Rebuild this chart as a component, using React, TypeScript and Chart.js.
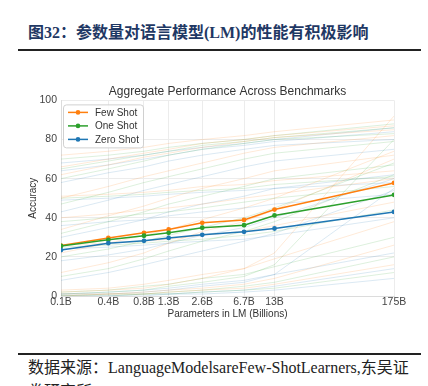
import React, { useEffect, useRef } from "react";
import { Chart, registerables } from "chart.js";
Chart.register(...registerables);

const paramValues = [0.125, 0.35, 0.76, 1.3, 2.7, 6.7, 13, 175];
const tickLabels = ["0.1B", "0.4B", "0.8B", "1.3B", "2.6B", "6.7B", "13B", "175B"];
const yTicks = [0, 20, 40, 60, 80, 100];

const fewShot = [25.8, 29.7, 32.3, 34.0, 37.4, 38.9, 44.2, 57.8];
const oneShot = [25.6, 28.7, 30.8, 32.3, 34.9, 36.2, 41.2, 51.7];
const zeroShot = [23.5, 27.0, 28.2, 29.7, 31.3, 32.8, 34.5, 43.0];

const bgFew = [
  [66, 70, 73, 75, 78, 80, 82, 87],
  [62, 67, 71, 73, 76, 79, 81, 85],
  [50, 56, 61, 64, 68, 73, 76, 82],
  [34, 41, 46, 50, 55, 60, 64, 72],
  [51, 52, 53, 54, 56, 57, 59, 64],
  [40, 42, 44, 45, 47, 50, 52, 60],
  [3, 4, 6, 8, 11, 14, 19, 38],
  [1, 1, 2, 3, 4, 6, 9, 26],
  [2, 3, 4, 6, 9, 14, 22, 92],
  [22, 27, 31, 34, 39, 45, 50, 74],
  [12, 17, 22, 27, 33, 38, 44, 70],
  [0, 1, 1, 2, 3, 4, 6, 16],
  [26, 27, 28, 29, 31, 33, 36, 48],
  [72, 74, 76, 78, 80, 82, 84, 90],
];
const bgOne = [
  [65, 69, 72, 74, 77, 79, 81, 86],
  [60, 65, 69, 72, 75, 78, 80, 83],
  [47, 53, 58, 61, 65, 70, 73, 79],
  [32, 38, 43, 47, 51, 56, 60, 67],
  [50, 51, 52, 53, 54, 55, 57, 61],
  [38, 40, 42, 43, 45, 48, 50, 56],
  [2, 3, 5, 6, 9, 11, 15, 30],
  [0, 1, 1, 2, 3, 5, 7, 20],
  [1, 2, 3, 5, 7, 10, 16, 80],
  [20, 24, 28, 31, 35, 40, 45, 68],
  [10, 14, 19, 23, 28, 33, 38, 62],
  [0, 0, 1, 1, 2, 3, 4, 12],
  [25, 26, 27, 28, 29, 31, 33, 44],
  [70, 72, 74, 76, 78, 80, 82, 88],
];
const bgZero = [
  [64, 67, 70, 72, 75, 77, 79, 84],
  [58, 63, 66, 69, 72, 75, 77, 80],
  [43, 49, 54, 57, 61, 66, 69, 75],
  [30, 35, 39, 43, 47, 51, 55, 62],
  [49, 50, 51, 52, 53, 54, 55, 58],
  [36, 38, 39, 41, 43, 45, 47, 52],
  [1, 2, 3, 4, 6, 8, 11, 22],
  [0, 0, 1, 1, 2, 3, 5, 14],
  [1, 1, 2, 3, 5, 7, 11, 55],
  [18, 21, 24, 27, 31, 35, 40, 60],
  [8, 12, 16, 19, 23, 28, 32, 54],
  [0, 0, 0, 1, 1, 2, 3, 9],
  [24, 25, 26, 27, 28, 29, 31, 40],
  [68, 70, 72, 74, 76, 78, 80, 86],
];

const ORANGE = "#ff7f0e";
const GREEN = "#2ca02c";
const BLUE = "#1f77b4";
const SANS = "'Liberation Sans', Arial, sans-serif";

const toPts = (arr: number[]) => arr.map((y, i) => ({ x: paramValues[i], y }));

const innerLegend = {
  id: "innerLegend",
  afterDraw(chart: any) {
    const { ctx, chartArea } = chart;
    const items = [
      { label: "Few Shot", color: ORANGE },
      { label: "One Shot", color: GREEN },
      { label: "Zero Shot", color: BLUE },
    ];
    const x = chartArea.left + 2;
    const y = chartArea.top + 4;
    const w = 80;
    const h = 43;
    ctx.save();
    ctx.fillStyle = "rgba(255,255,255,0.85)";
    ctx.strokeStyle = "#d0d0d0";
    ctx.lineWidth = 1;
    ctx.beginPath();
    (ctx as any).roundRect ? ctx.roundRect(x + 0.5, y + 0.5, w, h, 3) : ctx.rect(x + 0.5, y + 0.5, w, h);
    ctx.fill();
    ctx.stroke();
    ctx.font = "10px " + SANS;
    ctx.textBaseline = "middle";
    items.forEach((it, i) => {
      const ry = y + 8 + i * 13.5;
      ctx.strokeStyle = it.color;
      ctx.lineWidth = 1.5;
      ctx.beginPath();
      ctx.moveTo(x + 5, ry);
      ctx.lineTo(x + 25, ry);
      ctx.stroke();
      ctx.fillStyle = it.color;
      ctx.beginPath();
      ctx.arc(x + 15, ry, 2.3, 0, Math.PI * 2);
      ctx.fill();
      ctx.fillStyle = "#333";
      ctx.fillText(it.label, x + 32, ry + 0.5);
    });
    ctx.restore();
  },
};

function PerfChart() {
  const ref = useRef<HTMLCanvasElement>(null);
  useEffect(() => {
    if (!ref.current) return;
    const bgSets: any[] = [];
    const addBg = (rows: number[][], rgb: string) =>
      rows.forEach((r) =>
        bgSets.push({
          data: toPts(r),
          borderColor: `rgba(${rgb},0.16)`,
          borderWidth: 1,
          pointRadius: 0,
          order: 5,
        })
      );
    addBg(bgFew, "255,127,14");
    addBg(bgOne, "44,160,44");
    addBg(bgZero, "31,119,180");
    const main = (label: string, data: number[], color: string, order: number) => ({
      label,
      data: toPts(data),
      borderColor: color,
      backgroundColor: color,
      borderWidth: 1.5,
      pointRadius: 2.4,
      pointBorderWidth: 0,
      order,
    });
    const chart = new Chart(ref.current, {
      type: "line",
      data: {
        datasets: [
          main("Few Shot", fewShot, ORANGE, 2),
          main("One Shot", oneShot, GREEN, 1),
          main("Zero Shot", zeroShot, BLUE, 0),
          ...bgSets,
        ],
      },
      options: {
        animation: false,
        responsive: false,
        maintainAspectRatio: false,
        layout: { padding: { top: 8, left: 27, right: 34, bottom: 5.5 } },
        plugins: {
          legend: { display: false },
          tooltip: { enabled: false },
          title: {
            display: true,
            fullSize: false,
            text: "Aggregate Performance Across Benchmarks",
            color: "#333",
            font: { size: 12, family: SANS, weight: "normal" },
            padding: { top: 0, bottom: 2 },
          },
        },
        scales: {
          x: {
            type: "logarithmic",
            min: paramValues[0],
            max: paramValues[paramValues.length - 1],
            afterBuildTicks: (s: any) => {
              s.ticks = paramValues.map((v) => ({ value: v }));
            },
            afterFit: (s: any) => {
              s.height = 24.5;
            },
            ticks: {
              autoSkip: false,
              maxRotation: 0,
              padding: 0,
              color: "#444",
              font: { size: 10.5, family: SANS },
              callback: (_v: any, i: number) => tickLabels[i],
            },
            grid: { color: "#ececec", drawTicks: false },
            border: { color: "#dcdcdc" },
            title: {
              display: true,
              text: "Parameters in LM (Billions)",
              color: "#333",
              font: { size: 10, family: SANS },
              padding: { top: 0, bottom: 0 },
            },
          },
          y: {
            type: "linear",
            min: yTicks[0],
            max: yTicks[yTicks.length - 1],
            afterBuildTicks: (s: any) => {
              s.ticks = yTicks.map((v) => ({ value: v }));
            },
            afterFit: (s: any) => {
              s.width = 34;
            },
            ticks: {
              padding: 4,
              color: "#444",
              font: { size: 10.5, family: SANS },
            },
            grid: { color: "#ececec", drawTicks: false },
            border: { color: "#dcdcdc" },
            title: {
              display: true,
              text: "Accuracy",
              color: "#333",
              font: { size: 10, family: SANS },
              padding: { top: 0, bottom: 0 },
            },
          },
        },
      },
      plugins: [innerLegend],
    } as any);
    return () => chart.destroy();
  }, []);
  return (
    <canvas
      ref={ref}
      width={428}
      height={250}
      style={{ position: "absolute", left: 0, top: 76, width: 428, height: 250 }}
    />
  );
}

export default function App() {
  return (
    <div
      style={{
        position: "absolute",
        left: 0,
        top: 0,
        width: 428,
        height: 386,
        overflow: "hidden",
        background: "#fff",
      }}
    >
      <div
        style={{
          position: "absolute",
          left: 28,
          top: 23,
          fontFamily: "'Liberation Serif', 'Noto Sans CJK SC', serif",
          fontWeight: "bold",
          fontSize: 16,
          lineHeight: "20px",
          color: "#1f3864",
          whiteSpace: "nowrap",
        }}
      >
        图32：参数量对语言模型(LM)的性能有积极影响
      </div>
      <div style={{ position: "absolute", left: 18, top: 49, width: 403, height: 2, background: "#222" }} />
      <PerfChart />
      <div style={{ position: "absolute", left: 18, top: 353, width: 403, height: 1.5, background: "#222" }} />
      <div
        style={{
          position: "absolute",
          left: 28,
          top: 356,
          width: 395,
          fontFamily: "'Liberation Serif', 'Noto Sans CJK SC', serif",
          fontSize: 16,
          lineHeight: "24px",
          color: "#222",
        }}
      >
        数据来源：LanguageModelsareFew-ShotLearners,东吴证券研究所
      </div>
    </div>
  );
}
